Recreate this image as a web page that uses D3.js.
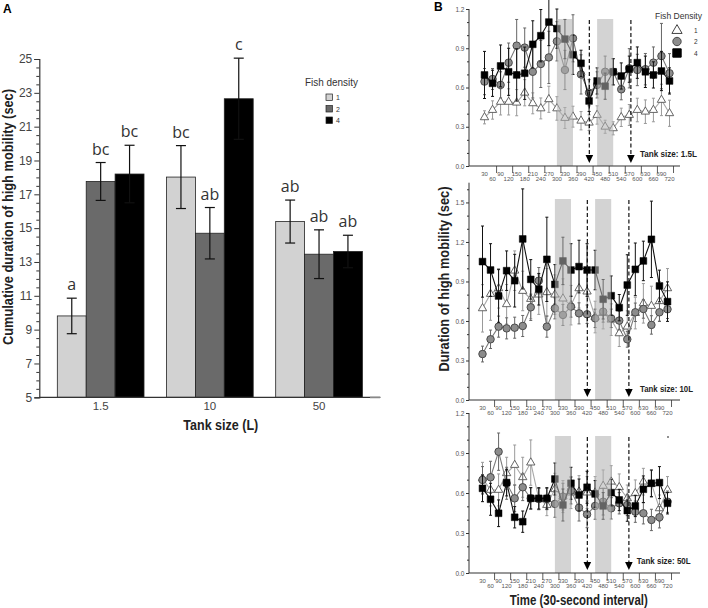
<!DOCTYPE html>
<html><head><meta charset="utf-8">
<script src="https://cdn.jsdelivr.net/npm/d3@7"></script>
<style>body{margin:0;background:#fff}svg{display:block}</style>
</head><body>
<svg id="c" width="708" height="608"></svg>
<script>
// ---------- Panel A data ----------
const tankSizes = ["1.5", "10", "50"];
const densities = ["1", "2", "4"];
const barMean1 = [9.81, 18.02, 15.39];
const barMean2 = [17.76, 14.70, 13.46];
const barMean4 = [18.20, 22.65, 13.62];
const barErr1 = [1.05, 1.86, 1.27];
const barErr2 = [1.12, 1.52, 1.44];
const barErr4 = [1.70, 2.40, 0.96];
const barLetters1 = ["a", "bc", "ab"];
const barLetters2 = ["bc", "ab", "ab"];
const barLetters4 = ["bc", "c", "ab"];
const yTicksA = [5, 7, 9, 11, 13, 15, 17, 19, 21, 23, 25];

// ---------- Panel B data ----------
const times = [30,60,90,120,150,180,210,240,270,300,330,360,390,420,450,480,510,540,570,600,630,660,690,720];
const shades = [[300, 360], [450, 510]];
const arrows = [421, 576];

const tri15 = [0.372,0.428,0.49,0.49,0.484,0.56,0.479,0.44,0.51,0.44,0.367,0.377,0.346,0.331,0.39,0.30,0.288,0.372,0.39,0.428,0.415,0.428,0.505,0.403];
const cir15 = [0.645,0.665,0.62,0.79,0.92,0.905,0.72,0.78,0.83,0.953,0.734,0.976,0.70,0.56,0.62,0.72,0.72,0.586,0.747,0.734,0.74,0.79,0.84,0.709];
const sq15  = [0.696,0.632,0.765,0.72,0.696,0.709,0.93,0.996,1.10,1.05,0.97,0.85,0.785,0.497,0.65,0.61,0.72,0.688,0.74,0.79,0.72,0.696,0.726,0.65];
const triErr15 = [0.05,0.07,0.1,0.1,0.1,0.1,0.08,0.08,0.1,0.09,0.08,0.08,0.07,0.06,0.07,0.05,0.05,0.07,0.08,0.09,0.09,0.09,0.12,0.1];
const cirErr15 = [0.1,0.08,0.1,0.15,0.2,0.15,0.2,0.18,0.2,0.15,0.15,0.18,0.15,0.1,0.1,0.12,0.1,0.08,0.15,0.12,0.12,0.12,0.25,0.15];
const sqErr15  = [0.18,0.1,0.16,0.18,0.2,0.2,0.18,0.2,0.18,0.15,0.15,0.15,0.1,0.08,0.1,0.1,0.1,0.1,0.1,0.12,0.12,0.1,0.15,0.1];

const tri10 = [0.696,0.805,0.848,0.727,0.982,0.828,0.767,0.80,0.818,0.80,0.77,0.72,0.848,0.823,0.63,0.66,0.61,0.506,0.557,0.66,0.734,0.714,0.75,0.848];
const cir10 = [0.349,0.461,0.557,0.544,0.549,0.562,0.704,0.906,0.557,0.696,0.646,0.709,0.658,0.651,0.62,0.671,0.62,0.603,0.461,0.666,0.691,0.57,0.666,0.689];
const sq10  = [1.051,0.987,0.79,0.982,0.906,1.223,0.916,0.841,1.068,0.878,1.056,0.987,1.013,0.987,0.987,0.765,0.792,0.701,0.873,0.992,1.056,1.22,0.866,0.747];
const triErr10 = [0.18,0.2,0.15,0.15,0.15,0.15,0.15,0.15,0.18,0.15,0.15,0.15,0.15,0.15,0.12,0.12,0.12,0.1,0.12,0.12,0.15,0.15,0.15,0.15];
const cirErr10 = [0.06,0.07,0.08,0.08,0.08,0.08,0.1,0.1,0.08,0.08,0.08,0.08,0.08,0.07,0.07,0.08,0.07,0.07,0.06,0.07,0.07,0.07,0.07,0.07];
const sqErr10  = [0.27,0.2,0.2,0.15,0.2,0.38,0.15,0.12,0.32,0.15,0.18,0.2,0.2,0.2,0.15,0.15,0.15,0.1,0.23,0.2,0.15,0.29,0.12,0.15];

const tri50 = [0.71,0.623,0.623,0.748,0.81,0.718,0.828,0.555,0.51,0.628,0.573,0.603,0.61,0.603,0.603,0.653,0.685,0.643,0.56,0.598,0.685,0.668,0.485,0.623];
const cir50 = [0.698,0.718,0.91,0.673,0.56,0.643,0.56,0.555,0.555,0.518,0.573,0.618,0.49,0.44,0.503,0.535,0.485,0.523,0.51,0.46,0.448,0.398,0.418,0.535];
const sq50  = [0.635,0.553,0.448,0.678,0.418,0.385,0.56,0.56,0.56,0.705,0.51,0.673,0.585,0.643,0.593,0.503,0.603,0.548,0.468,0.503,0.628,0.673,0.678,0.523];
const triErr50 = [0.12,0.12,0.12,0.12,0.15,0.15,0.17,0.08,0.08,0.12,0.12,0.12,0.12,0.12,0.12,0.12,0.12,0.1,0.1,0.1,0.1,0.1,0.1,0.1];
const cirErr50 = [0.1,0.12,0.14,0.12,0.1,0.1,0.08,0.08,0.08,0.1,0.1,0.1,0.1,0.1,0.1,0.1,0.08,0.08,0.08,0.08,0.08,0.08,0.08,0.08];
const sqErr50  = [0.1,0.12,0.1,0.1,0.08,0.08,0.08,0.08,0.08,0.12,0.12,0.12,0.12,0.12,0.1,0.1,0.1,0.08,0.08,0.08,0.1,0.1,0.12,0.08];

const svg = d3.select("#c");
const FONT = "'Liberation Sans', Arial, sans-serif";

// =============== PANEL A ===============
const yA = d3.scaleLinear().domain([5, 25]).range([397.3, 59]);
const xA = d3.scaleBand().domain(tankSizes).range([39.3, 380.4]).paddingInner(0.206).paddingOuter(0.165);
const xSub = d3.scaleBand().domain(densities).range([0, xA.bandwidth()]);
const barFill = {"1": "#d2d2d2", "2": "#6a6a6a", "4": "#000000"};
const means = {"1": barMean1, "2": barMean2, "4": barMean4};
const errs = {"1": barErr1, "2": barErr2, "4": barErr4};
const letters = {"1": barLetters1, "2": barLetters2, "4": barLetters4};

const gA = svg.append("g");
const barData = [];
tankSizes.forEach((t, i) => densities.forEach(d => barData.push({t, d, v: means[d][i], e: errs[d][i], l: letters[d][i]})));

gA.selectAll("rect.bar").data(barData).join("rect")
  .attr("x", b => xA(b.t) + xSub(b.d)).attr("width", xSub.bandwidth())
  .attr("y", b => yA(b.v)).attr("height", b => yA(5) - yA(b.v))
  .attr("fill", b => barFill[b.d]).attr("stroke", "#222").attr("stroke-width", 0.8);

const cx = b => xA(b.t) + xSub(b.d) + xSub.bandwidth() / 2;
const ebA = gA.selectAll("g.eb").data(barData).join("g").attr("stroke", "#111").attr("stroke-width", 1.2);
ebA.append("line").attr("x1", cx).attr("x2", cx).attr("y1", b => yA(b.v - b.e)).attr("y2", b => yA(b.v + b.e));
ebA.append("line").attr("x1", b => cx(b) - 5).attr("x2", b => cx(b) + 5).attr("y1", b => yA(b.v + b.e)).attr("y2", b => yA(b.v + b.e));
ebA.append("line").attr("x1", b => cx(b) - 5).attr("x2", b => cx(b) + 5).attr("y1", b => yA(b.v - b.e)).attr("y2", b => yA(b.v - b.e));

gA.selectAll("text.let").data(barData).join("text")
  .attr("x", cx).attr("y", b => yA(b.v + b.e) - 8)
  .attr("text-anchor", "middle").attr("font-family", "'Open Sans', sans-serif").attr("font-size", 16).attr("fill", "#333")
  .text(b => b.l);

// axes A
const axA = gA.append("g").attr("transform", "translate(39.3,0)")
  .call(d3.axisLeft(yA).tickValues(yTicksA).tickSize(5).tickPadding(2).tickFormat(d3.format("d")));
axA.select(".domain").attr("stroke", "#333").attr("stroke-width", 1.2);
axA.selectAll(".tick line").attr("stroke", "#333");
axA.selectAll("text").attr("font-family", FONT).attr("font-size", 12).attr("fill", "#444");
const minorA = d3.range(5, 25.01, 0.5).filter(v => Math.abs(v % 2 - 1) > 0.01);
gA.append("g").attr("transform", "translate(39.3,0)")
  .call(d3.axisLeft(yA).tickValues(minorA).tickSize(3).tickFormat(""))
  .call(g => { g.select(".domain").remove(); g.selectAll("line").attr("stroke", "#333"); });
const axAx = gA.append("g").attr("transform", `translate(0,${yA(5)})`)
  .call(d3.axisBottom(xA).tickSize(0).tickPadding(5));
axAx.select(".domain").attr("stroke", "#333").attr("stroke-width", 1.2).attr("d", `M39.3,0H380.4`);
axAx.selectAll("text").attr("font-family", FONT).attr("font-size", 11.5).attr("fill", "#444");

gA.append("text").attr("transform", "translate(13,217) rotate(-90)").attr("text-anchor", "middle")
  .attr("font-family", FONT).attr("font-weight", "bold").attr("font-size", 14).attr("fill", "#222")
  .attr("textLength", 256).attr("lengthAdjust", "spacingAndGlyphs")
  .text("Cumulative duration of high mobility  (sec)");
gA.append("text").attr("x", 220.8).attr("y", 429.5).attr("text-anchor", "middle")
  .attr("font-family", FONT).attr("font-weight", "bold").attr("font-size", 14).attr("fill", "#222")
  .attr("textLength", 75).attr("lengthAdjust", "spacingAndGlyphs").text("Tank size (L)");
svg.append("text").attr("x", 3).attr("y", 13).attr("font-family", FONT).attr("font-weight", "bold").attr("font-size", 12).text("A");

// legend A
gA.append("text").attr("x", 305).attr("y", 85.5).attr("font-family", FONT).attr("font-size", 11).attr("fill", "#333")
  .attr("textLength", 53).attr("lengthAdjust", "spacingAndGlyphs").text("Fish density");
const legA = gA.selectAll("g.legA").data(densities).join("g").attr("transform", (d, i) => `translate(326,${94 + i * 11.5})`);
legA.append("rect").attr("width", 6.5).attr("height", 6.5).attr("fill", d => barFill[d]).attr("stroke", "#222").attr("stroke-width", 0.7);
legA.append("text").attr("x", 10).attr("y", 6).attr("font-family", FONT).attr("font-size", 7).attr("fill", "#333").text(d => d);

// =============== PANEL B ===============
const panels = [
  {y0: 166, y1: 9, max: 1.2, ticks: [0, 0.3, 0.6, 0.9, 1.2], dx: 2, shadeTop: 19, tri: tri15, cir: cir15, sq: sq15, te: triErr15, ce: cirErr15, se: sqErr15, label: "Tank size: 1.5L", lx: 640, ly: 157, lw: 57},
  {y0: 400, y1: 400 - 1.65 * 131.7, max: 1.65, ticks: [0, 0.3, 0.6, 0.9, 1.2, 1.5], dx: 0, shadeTop: 199, tri: tri10, cir: cir10, sq: sq10, te: triErr10, ce: cirErr10, se: sqErr10, label: "Tank size: 10L", lx: 640, ly: 392, lw: 53},
  {y0: 573, y1: 413, max: 1.2, ticks: [0, 0.3, 0.6, 0.9, 1.2], dx: 0, shadeTop: 436, tri: tri50, cir: cir50, sq: sq50, te: triErr50, ce: cirErr50, se: sqErr50, label: "Tank size: 50L", lx: 636.7, ly: 564, lw: 54}
];
const AX0 = 469, AX1 = 680;
const fmt1 = d3.format(".1f");

panels.forEach(p => {
  const g = svg.append("g");
  const x = d3.scaleLinear().domain([30, 720]).range([482.5 + p.dx, 667.5 + p.dx]);
  const y = d3.scaleLinear().domain([0, p.max]).range([p.y0, p.y1]);
  const half = (x(60) - x(30)) / 2;

  const series = [
    {vals: p.tri, err: p.te, line: "#a8a8a8", ebc: "#9a9a9a", sym: d3.symbolTriangle, size: 30, fill: "#ffffff", stroke: "#555", sw: 0.9},
    {vals: p.cir, err: p.ce, line: "#7a7a7a", ebc: "#666", sym: d3.symbolCircle, size: 44, fill: "#8c8c8c", stroke: "#4a4a4a", sw: 1},
    {vals: p.sq, err: p.se, line: "#111", ebc: "#111", sym: d3.symbolSquare, size: 46, fill: "#000", stroke: "#000", sw: 0.5}
  ];
  series.forEach(s => {
    const pts = times.map((t, i) => ({t, v: s.vals[i], e: s.err[i]}));
    g.append("path").datum(pts).attr("fill", "none").attr("stroke", s.line).attr("stroke-width", 1.1)
      .attr("d", d3.line().x(d => x(d.t)).y(d => y(d.v)));
    const eb = g.append("g").attr("stroke", s.ebc).attr("stroke-width", 1);
    eb.selectAll("line.v").data(pts).join("line").attr("x1", d => x(d.t)).attr("x2", d => x(d.t))
      .attr("y1", d => y(d.v - d.e)).attr("y2", d => y(d.v + d.e));
    eb.selectAll("line.t").data(pts).join("line").attr("x1", d => x(d.t) - 1.5).attr("x2", d => x(d.t) + 1.5)
      .attr("y1", d => y(d.v + d.e)).attr("y2", d => y(d.v + d.e));
    eb.selectAll("line.b").data(pts).join("line").attr("x1", d => x(d.t) - 1.5).attr("x2", d => x(d.t) + 1.5)
      .attr("y1", d => y(d.v - d.e)).attr("y2", d => y(d.v - d.e));
    g.selectAll(null).data(pts).join("path")
      .attr("transform", d => `translate(${x(d.t)},${y(d.v)})`)
      .attr("d", d3.symbol().type(s.sym).size(s.size)())
      .attr("fill", s.fill).attr("stroke", s.stroke).attr("stroke-width", s.sw);
  });

  // shaded intervals (drawn over data, semi-transparent)
  g.selectAll("rect.sh").data(shades).join("rect")
    .attr("x", d => x(d[0])).attr("width", d => x(d[1]) - x(d[0]))
    .attr("y", p.shadeTop).attr("height", p.y0 - p.shadeTop)
    .attr("fill", "#b0b0b0").attr("opacity", 0.56);

  // arrows
  arrows.forEach(a => {
    g.append("line").attr("x1", x(a)).attr("x2", x(a)).attr("y1", p.shadeTop + 1).attr("y2", p.y0 - 9)
      .attr("stroke", "#111").attr("stroke-width", 1.2).attr("stroke-dasharray", "4,2.5");
    g.append("path").attr("d", `M${x(a) - 3.8},${p.y0 - 11}L${x(a) + 3.8},${p.y0 - 11}L${x(a)},${p.y0 - 3}Z`).attr("fill", "#000");
  });

  // y axis
  const ay = g.append("g").attr("transform", `translate(${AX0},0)`)
    .call(d3.axisLeft(y).tickValues(p.ticks).tickSize(3).tickPadding(1.5).tickFormat(fmt1));
  ay.select(".domain").attr("stroke", "#333").attr("d", `M0,${p.y0}V${p.y1}`);
  ay.selectAll(".tick line").attr("stroke", "#333");
  ay.selectAll("text").attr("font-family", FONT).attr("font-size", 6.5).attr("fill", "#555");
  const minor = d3.range(0, p.max + 0.001, 0.1).filter(v => Math.abs((v * 10) % 3) > 0.01);
  g.append("g").attr("transform", `translate(${AX0},0)`)
    .call(d3.axisLeft(y).tickValues(minor).tickSize(2).tickFormat(""))
    .call(a => { a.select(".domain").remove(); a.selectAll("line").attr("stroke", "#333"); });

  // x axis
  g.append("line").attr("x1", AX0).attr("x2", AX1).attr("y1", p.y0).attr("y2", p.y0).attr("stroke", "#333").attr("stroke-width", 1.1);
  const tickT = times.filter((t, i) => i % 2 === 1);
  g.selectAll("line.xt").data(tickT).join("line").attr("x1", t => x(t) + half).attr("x2", t => x(t) + half)
    .attr("y1", p.y0).attr("y2", p.y0 + 7).attr("stroke", "#333").attr("stroke-width", 0.8);
  g.selectAll("text.xl").data(times).join("text")
    .attr("x", t => x(t)).attr("y", (t, i) => p.y0 + (i % 2 === 0 ? 9.8 : 14.8))
    .attr("text-anchor", "middle").attr("font-family", FONT).attr("font-size", 6).attr("fill", "#555")
    .text(t => t);

  g.append("text").attr("x", p.lx).attr("y", p.ly).attr("font-family", FONT).attr("font-weight", "bold")
    .attr("font-size", 9.5).attr("fill", "#222").attr("textLength", p.lw).attr("lengthAdjust", "spacingAndGlyphs").text(p.label);
});

// Legend B
svg.append("text").attr("x", 655).attr("y", 18.5).attr("font-family", FONT).attr("font-size", 8.8).attr("fill", "#333")
  .attr("textLength", 47).attr("lengthAdjust", "spacingAndGlyphs").text("Fish Density");
const legB = [
  {lab: "1", sym: d3.symbolTriangle, size: 45, fill: "#fff", stroke: "#444", y: 30.5},
  {lab: "2", sym: d3.symbolCircle, size: 55, fill: "#8c8c8c", stroke: "#4a4a4a", y: 41.5},
  {lab: "4", sym: d3.symbolSquare, size: 70, fill: "#000", stroke: "#000", y: 53}
];
const lgB = svg.selectAll("g.legB").data(legB).join("g").attr("transform", d => `translate(677,${d.y})`);
lgB.append("path").attr("d", d => d3.symbol().type(d.sym).size(d.size)()).attr("fill", d => d.fill).attr("stroke", d => d.stroke).attr("stroke-width", 1);
lgB.append("text").attr("x", 17).attr("y", 2.5).attr("font-family", FONT).attr("font-size", 6.5).attr("fill", "#333").text(d => d.lab);

svg.append("text").attr("x", 434).attr("y", 11).attr("font-family", FONT).attr("font-weight", "bold").attr("font-size", 12).text("B");
svg.append("text").attr("transform", "translate(449,279) rotate(-90)").attr("text-anchor", "middle")
  .attr("font-family", FONT).attr("font-weight", "bold").attr("font-size", 14).attr("fill", "#222")
  .attr("textLength", 185).attr("lengthAdjust", "spacingAndGlyphs").text("Duration of high mobility  (sec)");
svg.append("text").attr("x", 578.8).attr("y", 605).attr("text-anchor", "middle")
  .attr("font-family", FONT).attr("font-weight", "bold").attr("font-size", 14).attr("fill", "#222")
  .attr("textLength", 138).attr("lengthAdjust", "spacingAndGlyphs").text("Time (30-second  interval)");

// small marks present in the reference
svg.append("line").attr("x1", 370).attr("x2", 380).attr("y1", 397.5).attr("y2", 397.5).attr("stroke", "#888").attr("stroke-width", 1.5);
svg.append("line").attr("x1", 667).attr("x2", 669).attr("y1", 437).attr("y2", 437).attr("stroke", "#222").attr("stroke-width", 1.2);
</script>
</body></html>
